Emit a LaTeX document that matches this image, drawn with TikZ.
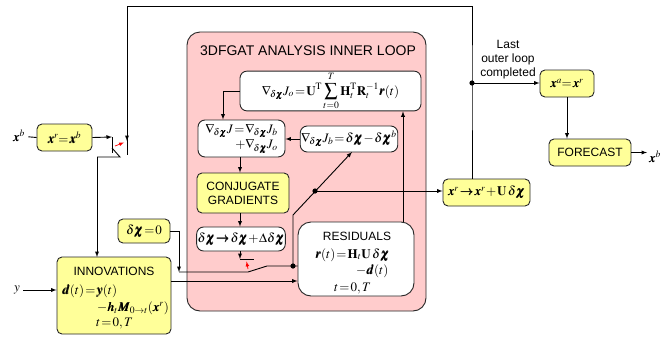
\documentclass[tikz,border=0pt]{standalone}
\usepackage{amsmath}
\usepackage{mathptmx}
\usepackage{bm}
\usepackage[no-math]{fontspec}
\setmainfont{Liberation Sans}
\AtBeginDocument{\thickmuskip=1.5mu\relax\medmuskip=1mu\relax}
\definecolor{boxyellow}{HTML}{FFFF99}
\definecolor{looppink}{HTML}{FFCCCC}
\tikzset{
  ybox/.style={draw=black!85, fill=boxyellow, rounded corners=5pt, line width=0.9pt, inner sep=1pt},
  wbox/.style={draw=black!85, fill=white, rounded corners=7pt, line width=0.9pt, inner sep=1pt},
  loopbox/.style={draw=black!85, fill=looppink, rounded corners=13pt, line width=0.9pt},
  mathtext/.style={font=\fontsize{13}{14}\selectfont},
  mathline/.style={mathtext, anchor=base west, inner sep=0},
  flow/.style={line width=0.9pt, -latex},
  wire/.style={line width=0.9pt},
  flip/.style={red, line width=0.7pt, -latex},
}
\begin{document}
\begin{tikzpicture}[x=1pt, y=-1pt, font=\fontsize{12}{14}\selectfont]
\useasboundingbox (0,0) rectangle (667,338);
%inner loop
\node[loopbox, minimum width=239, minimum height=279] (loop) at (306.5,171.5) {};
\node (looptitle) at (308,51) {\fontsize{14}{16}\selectfont 3DFGAT ANALYSIS INNER LOOP};
%boxes
\node[ybox, mathtext, minimum width=55, minimum height=27] (xrb) at (64.5,137.5) {$\bm{x}^r\!=\bm{x}^b$};
\node[ybox, mathtext, minimum width=52, minimum height=24] (dchi0) at (144,231) {$\delta\bm{\chi}=0$};
\node[ybox, minimum width=114, minimum height=77] (innov) at (114,295.5) {};
\node (innovtitle) at (114,271) {INNOVATIONS};
\node[mathline] (innovd) at (62,294) {$\bm{d}(t)=\bm{y}(t)$};
\node[mathline] (innovh) at (97,311.5) {$-\bm{h}_t\bm{M}_{0\rightarrow t}(\bm{x}^r)$};
\node[mathline] (innovt) at (96,326) {$t=0,T$};
\node[wbox, mathtext, minimum width=181, minimum height=38] (gradJo) at (330.5,91)
  {$\displaystyle\nabla_{\!\delta\bm{\chi}}J_o=\mathbf{U}^{\mathrm{T}}\sum_{t=0}^{\raisebox{1.5pt}{$\scriptstyle T$}}\mathbf{H}_t^{\mathrm{T}}\mathbf{R}_t^{-1}\bm{r}(t)$};
\node[wbox, mathtext, minimum width=87, minimum height=37, align=right] (gradJ) at (241.5,138.5)
  {$\nabla_{\!\delta\bm{\chi}}J=\nabla_{\!\delta\bm{\chi}}J_b$\\$+\nabla_{\!\delta\bm{\chi}}J_o$};
\node[wbox, mathtext, minimum width=96, minimum height=26] (gradJb) at (349,139)
  {$\nabla_{\!\delta\bm{\chi}}J_b=\delta\bm{\chi}-\delta\bm{\chi}^b$};
\node[ybox, minimum width=92, minimum height=40, align=center] (cg) at (243,193) {CONJUGATE\\GRADIENTS};
\node[wbox, mathtext, minimum width=84, minimum height=24] (dchiup) at (241,239)
  {$\delta\bm{\chi}\bm{\rightarrow}\delta\bm{\chi}+\Delta\delta\bm{\chi}$};
\node[wbox, minimum width=116, minimum height=74, rounded corners=13pt] (resid) at (356,259) {};
\node (residtitle) at (357,236) {RESIDUALS};
\node[mathline] (residr) at (315,258) {$\bm{r}(t)=\mathbf{H}_t\mathbf{U}\,\delta\bm{\chi}$};
\node[mathline] (residd) at (356,274) {$-\bm{d}(t)$};
\node[mathline] (residt) at (334,291) {$t=0,T$};
\node[ybox, mathtext, minimum width=87, minimum height=27] (xupd) at (486.5,192.5)
  {$\bm{x}^r\bm{\rightarrow}\bm{x}^r+\mathbf{U}\,\delta\bm{\chi}$};
\node[ybox, mathtext, minimum width=54, minimum height=27] (xa) at (567,83.5) {$\bm{x}^a\!=\bm{x}^r$};
\node[ybox, minimum width=82, minimum height=27] (fcst) at (590,152.5) {FORECAST};
%labels
\node[mathtext] (xbin) at (19,136) {$\bm{x}^b$};
\node[mathtext] (ylab) at (17,290) {$y$};
\node[mathtext] (xbout) at (655,157) {$\bm{x}^b$};
\node[align=center] (lastlbl) at (508,60) {Last\\outer loop\\completed};
%switches
\coordinate (swA) at (112,137);
\coordinate (swB) at (127,155);
\coordinate (sw1p) at (120,157);
\coordinate (sw2lo) at (179,272);
\coordinate (sw2hi) at (240,259);
\coordinate (sw2p) at (267,266);
\coordinate (dotA) at (293,266);
\coordinate (dotB) at (315,191);
\coordinate (dotC) at (472,83);
%outer loop
\draw[wire] (xupd.north -| dotC) -- (dotC) -- (472,6) -- (127,6) -- (swB);
\draw[flow] (127,100) -- (127,141);
\draw[wire] (xbin) -- (xrb.west);
\draw[flow] (xrb.east) -- (swA);
\draw[wire] (swA) -- (112,153);
\draw[wire] (112,148) -- (sw1p) -- (97,157);
\draw[flow] (97,157) -- (97,257);
\draw[flip] (115,146) -- (124,142.5);
\draw[flow] (ylab) -- (innov.west |- ylab);
\draw[flow] ([yshift=14.5]innov.east) -- ([yshift=14.5]innov.east -| resid.west);
%inner loop wires
\draw[flow] (dchi0.east) -| (sw2lo);
\draw[wire] (sw2lo) -- (248,272) -- (sw2p) -- (dotA) -- (dotA -| resid.west);
\draw[flow] (dchiup.south -| sw2hi) -- (sw2hi);
\draw[wire] (sw2hi) -- ++(14,0);
\draw[flip] (248,269) -- (246.5,261.5);
\draw[flow] (dotA) -- (293,215) -- (352,152);
\draw[flow] (dotB) -- (xupd.west |- dotB);
\draw[flow] (resid.north -| 403,0) -- (gradJo.south -| 403,0);
\draw[flow] (gradJo.west) -| (gradJ.north -| 223,0);
\draw[flow] (gradJb.west) -- (gradJ.east |- gradJb.west);
\draw[flow] (gradJ.south -| 240,0) -- (cg.north -| 240,0);
\draw[flow] (cg.south -| 240,0) -- (dchiup.north -| 240,0);
%output
\draw[flow] (dotC) -- (xa.west |- dotC);
\draw[flow] (xa.south) -- (xa.south |- fcst.north);
\draw[flow] (fcst.east) -- (647,152.5);
\fill (dotA) circle (2.6);
\fill (dotB) circle (2.6);
\fill (dotC) circle (2.6);
\end{tikzpicture}
\end{document}
